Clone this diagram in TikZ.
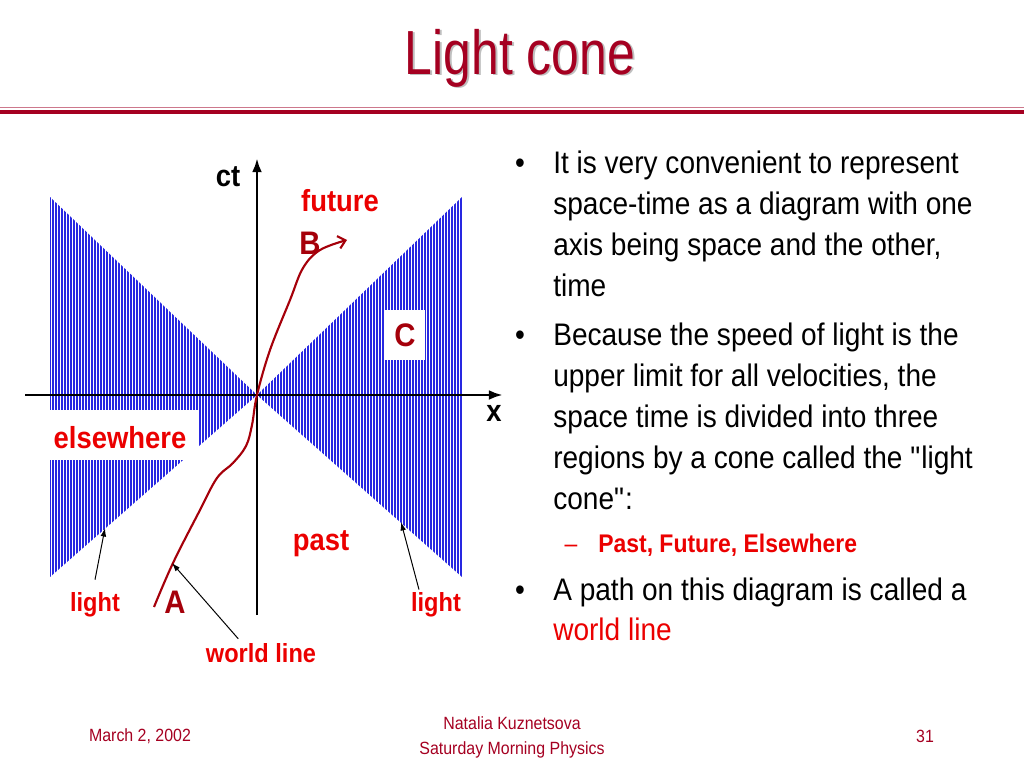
\documentclass[tikz,border=0pt]{standalone}
\usepackage{fontspec}
\setmainfont{Liberation Sans}[FakeStretch=0.9]
\newfontfamily\titlefont{Liberation Sans}[FakeStretch=0.8]
\usepackage{tikz}
\usetikzlibrary{arrows.meta}
\usepackage{xcolor}
\definecolor{titlered}{RGB}{165,0,33}
\definecolor{rulepink}{RGB}{205,120,140}
\definecolor{labelred}{RGB}{235,0,0}
\definecolor{darkred}{RGB}{165,0,10}
\definecolor{hatchblue}{RGB}{40,40,225}

\tikzset{
  lbl/.style={font=\fontsize{21.5}{25}\selectfont\bfseries, text=labelred, inner sep=0pt},
  small lbl/.style={lbl, font=\fontsize{18.5}{22}\selectfont\bfseries},
  ltr/.style={font=\fontsize{23}{27}\selectfont\bfseries, text=darkred, inner sep=0pt},
  axis/.style={line width=2pt, -{Latex[length=10pt,width=7pt]}},
  pointer/.style={line width=0.7pt, -{Latex[length=6pt,width=4pt]}},
  body/.style={font=\fontsize{22}{26}\selectfont, anchor=base west, inner sep=0pt},
  hatch/.style={hatchblue, line width=0.95pt},
  foot/.style={font=\fontsize{12.5}{15}\selectfont, text=titlered, inner sep=0pt},
}

\begin{document}
\begin{tikzpicture}[x=0.024805cm, y=-0.024805cm]
  \useasboundingbox (0,0) rectangle (1024,768);

  % title and rules
  \node[font=\titlefont\fontsize{44}{50}\selectfont, text=black!25, anchor=base] (shadow) at (522,76) {Light cone};
  \node[font=\titlefont\fontsize{44}{50}\selectfont, text=titlered, anchor=base] (title) at (520,74) {Light cone};
  \draw[rulepink, line width=0.7pt] (0,107) -- (1024,107);
  \draw[titlered, line width=2.8pt] (0,112) -- (1024,112);

  % light cone, hatched
  \coordinate (O) at (257,395);
  \begin{scope}
    \clip (50,197) -- (O) -- (50,577) -- cycle (462,197) -- (O) -- (462,577) -- cycle;
    \foreach \x in {50,53,...,462}
      \draw[hatch] (\x,197) -- (\x,577);
  \end{scope}

  % white label boxes
  \node[fill=white, minimum width=105pt, minimum height=35pt, inner sep=0pt] (elsebox) at (124,435) {};
  \node[lbl] (elsewhere) at (120,438) {elsewhere};
  \node[fill=white, minimum width=28pt, minimum height=35pt, inner sep=0pt, ltr] (C) at (405,335) {C};

  % axes
  \coordinate (xl) at (25,395);
  \coordinate (xr) at (503,395);
  \coordinate (tb) at (257,615);
  \coordinate (tt) at (257,158);
  \draw[axis] (xl) -- (xr);
  \draw[axis] (tb) -- (tt);
  \node[font=\fontsize{21.5}{25}\selectfont\bfseries, inner sep=0pt] (ct) at (228,177) {ct};
  \node[font=\fontsize{21.5}{25}\selectfont\bfseries, inner sep=0pt] (x) at (494,413) {x};

  % world line
  \draw[darkred, line width=1.5pt, -{Straight Barb[length=5pt,width=9pt]}]
    plot[smooth, tension=0.6] coordinates {(154,607) (173,563) (200,510) (217,478) (233,463) (246,446) (252,425) (257,395) (270,350) (290,300) (303,268) (320,250) (347,240)};

  % labels
  \node[lbl] (future) at (340,201) {future};
  \node[ltr] (B) at (310,243) {B};
  \node[lbl] (past) at (321,544) {past};
  \node[small lbl] (lightL) at (95,605) {light};
  \node[small lbl] (lightR) at (436,605) {light};
  \node[ltr] (A) at (175,602) {A};
  \node[small lbl] (wline) at (261,653) {world line};

  \coordinate (ltip) at (105,528);
  \coordinate (rtip) at (401,522);
  \coordinate (wtip) at (172,563);
  \draw[pointer] ([yshift=9pt]lightL.north) -- (ltip);
  \draw[pointer] ([xshift=-12pt,yshift=2pt]lightR.north) -- (rtip);
  \draw[pointer] ([xshift=-16pt,yshift=3pt]wline.north) -- (wtip);

  % bullet text
  \foreach \i/\yy/\txt in {1/173/{It is very convenient to represent},
      2/214/{space-time as a diagram with one},
      3/255/{axis being space and the other,},
      4/296/{time},
      5/345/{Because the speed of light is the},
      6/386/{upper limit for all velocities, the},
      7/427/{space time is divided into three},
      8/468/{regions by a cone called the \textquotedbl light},
      9/509/{cone\textquotedbl:},
      10/600/{A path on this diagram is called a}}
    \node[body] (line\i) at (553,\yy) {\txt};
  \node[body, text=labelred] (line11) at (553,640) {world line};
  \foreach \i/\yy in {1/173, 2/345, 3/600}
    \node[body, anchor=base] (dot\i) at (520,\yy) {\textbullet};
  \node[body, anchor=base, font=\fontsize{18}{22}\selectfont, text=labelred] (dash) at (571,552) {--};
  \node[body, font=\fontsize{18}{22}\selectfont\bfseries, text=labelred] (sub) at (598,552) {Past, Future, Elsewhere};

  % footer
  \node[foot] (date) at (140,736) {March 2, 2002};
  \node[foot] (author) at (512,723) {Natalia Kuznetsova};
  \node[foot] (course) at (512,750) {Saturday Morning Physics};
  \node[foot] (page) at (925,736) {31};
\end{tikzpicture}
\end{document}
